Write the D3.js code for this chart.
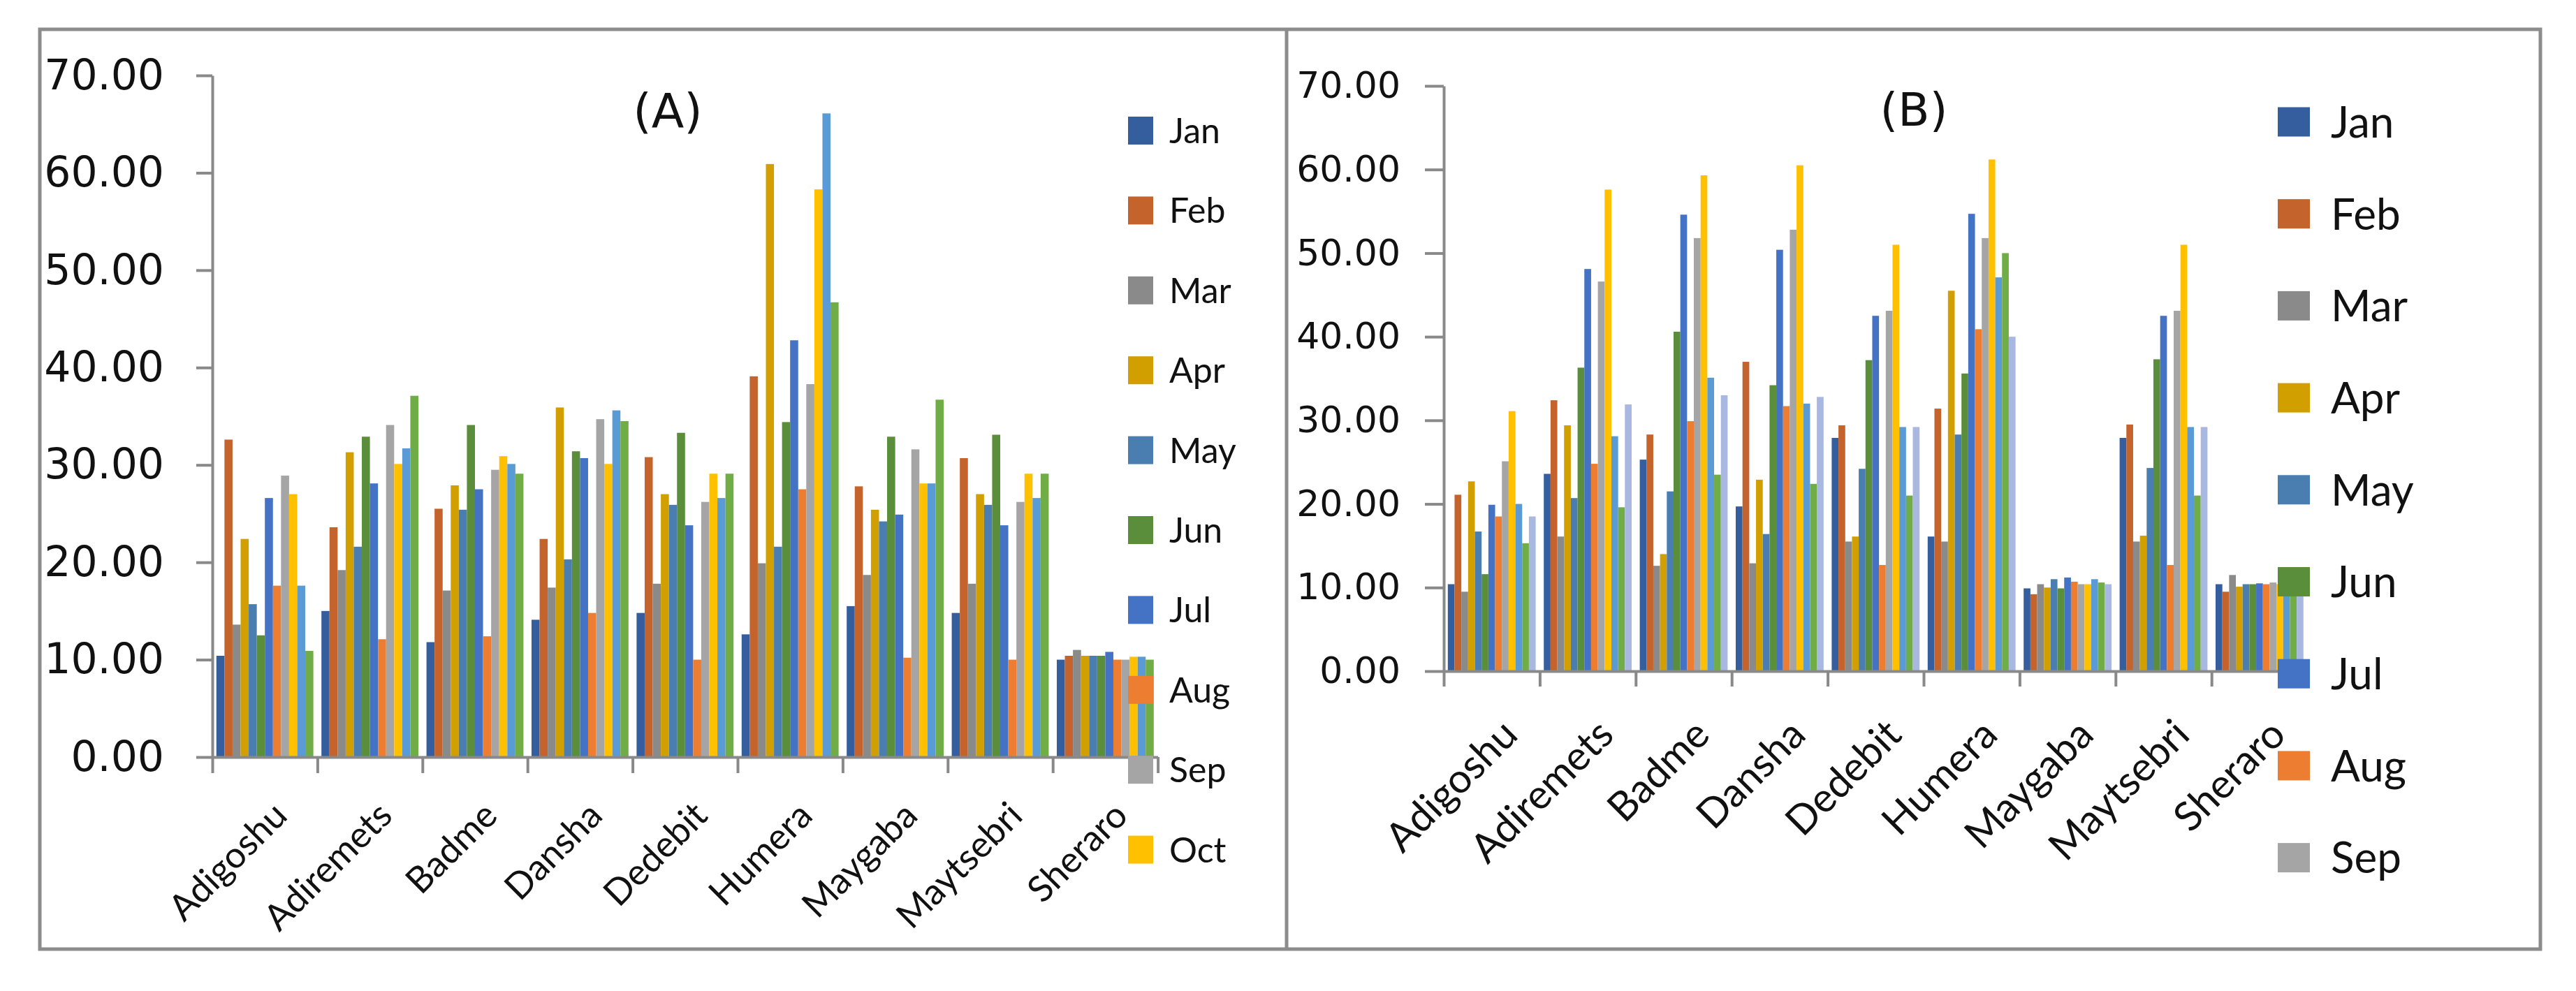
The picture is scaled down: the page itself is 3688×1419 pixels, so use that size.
<!DOCTYPE html>
<html lang="en">
<head>
<meta charset="UTF-8">
<title>Monthly values by station (A) and (B)</title>
<script src="https://d3js.org/d3.v7.min.js"></script>
<style>
    body { margin: 0; background: #fff; }
    svg { display: block; }
    .ytick text { font-family: "DejaVu Sans", Verdana, sans-serif; fill: #111; }
    .xlab { font-family: Lato, "Open Sans", sans-serif; fill: #111; }
    .legend text { font-family: Lato, "Open Sans", sans-serif; fill: #111; }
    .title { font-family: "DejaVu Sans", Verdana, sans-serif; fill: #111; text-anchor: middle; }
</style>
</head>
<body>
<svg id="chart" width="3688" height="1419"></svg>
<script>
// stations on the x axis (same for both panels)
const stations = ["Adigoshu", "Adiremets", "Badme", "Dansha", "Dedebit", "Humera", "Maygaba", "Maytsebri", "Sheraro"];

// series names; panel B has a 13th series that is hidden behind the legend cut-off
const monthsA = ["Jan", "Feb", "Mar", "Apr", "May", "Jun", "Jul", "Aug", "Sep", "Oct", "Nov", "Dec"];
const monthsB = ["Jan", "Feb", "Mar", "Apr", "May", "Jun", "Jul", "Aug", "Sep", "Oct", "Nov", "Dec", "Annual"];

const colors = ["#355E9F", "#C4632B", "#8A8A8A", "#D29F00", "#4A7EB0", "#5A8E3A",
                "#4472C4", "#ED7D31", "#A5A5A5", "#FFC000", "#5B9BD5", "#70AD47", "#A9B8E0"];

const yTicks = [0, 10, 20, 30, 40, 50, 60, 70];

// one row per station, one value per month
const valuesA = [
    [10.4, 32.6, 13.6, 22.4, 15.7, 12.5, 26.6, 17.6, 28.9, 27.0, 17.6, 10.9],
    [15.0, 23.6, 19.2, 31.3, 21.6, 32.9, 28.1, 12.1, 34.1, 30.1, 31.7, 37.1],
    [11.8, 25.5, 17.1, 27.9, 25.4, 34.1, 27.5, 12.4, 29.5, 30.9, 30.1, 29.1],
    [14.1, 22.4, 17.4, 35.9, 20.3, 31.4, 30.7, 14.8, 34.7, 30.1, 35.6, 34.5],
    [14.8, 30.8, 17.8, 27.0, 25.9, 33.3, 23.8, 10.0, 26.2, 29.1, 26.6, 29.1],
    [12.6, 39.1, 19.9, 60.9, 21.6, 34.4, 42.8, 27.5, 38.3, 58.3, 66.1, 46.7],
    [15.5, 27.8, 18.7, 25.4, 24.2, 32.9, 24.9, 10.2, 31.6, 28.1, 28.1, 36.7],
    [14.8, 30.7, 17.8, 27.0, 25.9, 33.1, 23.8, 10.0, 26.2, 29.1, 26.6, 29.1],
    [10.0, 10.4, 11.0, 10.4, 10.4, 10.4, 10.8, 10.0, 10.0, 10.3, 10.3, 10.0]
];

const valuesB = [
    [10.4, 21.1,  9.5, 22.7, 16.7, 11.6, 19.9, 18.5, 25.1, 31.1, 20.0, 15.3, 18.5],
    [23.6, 32.4, 16.1, 29.4, 20.7, 36.3, 48.1, 24.8, 46.6, 57.6, 28.1, 19.6, 31.9],
    [25.3, 28.3, 12.6, 14.0, 21.5, 40.6, 54.6, 29.9, 51.8, 59.3, 35.1, 23.5, 33.0],
    [19.7, 37.0, 12.9, 22.9, 16.4, 34.2, 50.4, 31.7, 52.8, 60.5, 32.0, 22.4, 32.8],
    [27.9, 29.4, 15.5, 16.1, 24.2, 37.2, 42.5, 12.7, 43.1, 51.0, 29.2, 21.0, 29.2],
    [16.1, 31.4, 15.5, 45.5, 28.3, 35.6, 54.7, 40.9, 51.8, 61.2, 47.1, 50.0, 40.0],
    [ 9.9,  9.2, 10.4, 10.0, 11.0,  9.9, 11.2, 10.7, 10.4, 10.4, 11.0, 10.6, 10.4],
    [27.9, 29.5, 15.5, 16.2, 24.3, 37.3, 42.5, 12.7, 43.1, 51.0, 29.2, 21.0, 29.2],
    [10.4,  9.5, 11.5, 10.1, 10.4, 10.4, 10.5, 10.4, 10.6, 10.4, 10.4, 10.4, 10.4]
];

const svg = d3.select("#chart");
const gray = "#8c8c8c";

// outer frame with the divider between the two panels
svg.append("rect")
    .attr("x", 57).attr("y", 42)
    .attr("width", 3580).attr("height", 1317)
    .attr("fill", "none").attr("stroke", gray).attr("stroke-width", 5);
svg.append("line")
    .attr("x1", 1842).attr("x2", 1842).attr("y1", 42).attr("y2", 1359)
    .attr("stroke", gray).attr("stroke-width", 5);

function drawPanel(p) {
    const g = svg.append("g");

    const x = d3.scaleBand().domain(stations).range([p.left, p.right]);
    const xs = d3.scaleBand().domain(p.series)
        .range([0, x.bandwidth()])
        .paddingOuter(p.groupGap / 2);
    const y = d3.scaleLinear().domain([0, 70]).range([p.bottom, p.top]);

    // bars
    g.append("g")
        .selectAll("g")
        .data(p.values)
        .join("g")
        .attr("transform", (d, i) => `translate(${x(stations[i])},0)`)
        .selectAll("rect")
        .data(d => d.map((v, j) => ({ v, j })))
        .join("rect")
        .attr("x", d => xs(p.series[d.j]))
        .attr("width", xs.bandwidth())
        .attr("y", d => y(d.v))
        .attr("height", d => y(0) - y(d.v))
        .attr("fill", d => colors[d.j]);

    // y axis
    const yAxis = g.append("g")
        .attr("class", "ytick")
        .attr("transform", `translate(${p.left},0)`)
        .call(d3.axisLeft(y)
            .tickValues(yTicks)
            .tickFormat(d3.format(".2f"))
            .tickSize(p.tickLen)
            .tickSizeOuter(0)
            .tickPadding(p.yPad));
    yAxis.selectAll("text").style("font-size", p.yFont + "px");

    // x axis: ticks sit on the category boundaries
    const xb = d3.scaleLinear().domain([0, stations.length]).range([p.left, p.right]);
    const xAxis = g.append("g")
        .attr("transform", `translate(0,${p.bottom})`)
        .call(d3.axisBottom(xb)
            .tickValues(d3.range(0, stations.length + 1))
            .tickFormat("")
            .tickSize(p.xTickLen)
            .tickSizeOuter(0));

    [yAxis, xAxis].forEach(a => {
        a.selectAll("path, line").attr("stroke", "#898989").attr("stroke-width", 4);
    });

    // rotated category labels
    g.append("g")
        .selectAll("text")
        .data(stations)
        .join("text")
        .attr("class", "xlab")
        .attr("text-anchor", "end")
        .attr("dominant-baseline", "hanging")
        .attr("transform", d => `translate(${x(d) + x.bandwidth() / 2 + p.labDx},${p.bottom + p.labDy}) rotate(-45)`)
        .style("font-size", p.xFont + "px")
        .text(d => d);

    // legend (only the entries that fit in the chart area)
    const leg = g.append("g").attr("class", "legend");
    const item = leg.selectAll("g")
        .data(p.series.slice(0, p.legendCount))
        .join("g")
        .attr("transform", (d, i) => `translate(${p.legX},${p.legY + i * p.legStep})`);
    item.append("rect")
        .attr("x", 0).attr("y", -p.legH / 2)
        .attr("width", p.legW).attr("height", p.legH)
        .attr("fill", (d, i) => colors[i]);
    item.append("text")
        .attr("x", p.legTextX)
        .attr("dy", "0.36em")
        .style("font-size", p.legFont + "px")
        .text(d => d);

    // panel title
    g.append("text")
        .attr("class", "title")
        .attr("x", p.titleX).attr("y", p.titleY)
        .style("font-size", p.titleFont + "px")
        .text(p.title);
}

drawPanel({
    title: "(A)", titleX: 956, titleY: 183, titleFont: 68,
    series: monthsA, values: valuesA,
    left: 304, right: 1657.6, top: 108, bottom: 1084,
    groupGap: 1.0, tickLen: 23, xTickLen: 23, yPad: 46, yFont: 60,
    xFont: 52, labDx: 6, labDy: 58,
    legX: 1615, legY: 187, legStep: 114.4, legW: 36, legH: 40,
    legTextX: 59, legFont: 50, legendCount: 10
});

drawPanel({
    title: "(B)", titleX: 2740, titleY: 180, titleFont: 66,
    series: monthsB, values: valuesB,
    left: 2067, right: 3303.6, top: 123, bottom: 961,
    groupGap: 1.2, tickLen: 27, xTickLen: 22, yPad: 35, yFont: 52,
    xFont: 58, labDx: 8, labDy: 62,
    legX: 3261, legY: 174.5, legStep: 131.7, legW: 46, legH: 42,
    legTextX: 76, legFont: 62, legendCount: 9
});
</script>
</body>
</html>
